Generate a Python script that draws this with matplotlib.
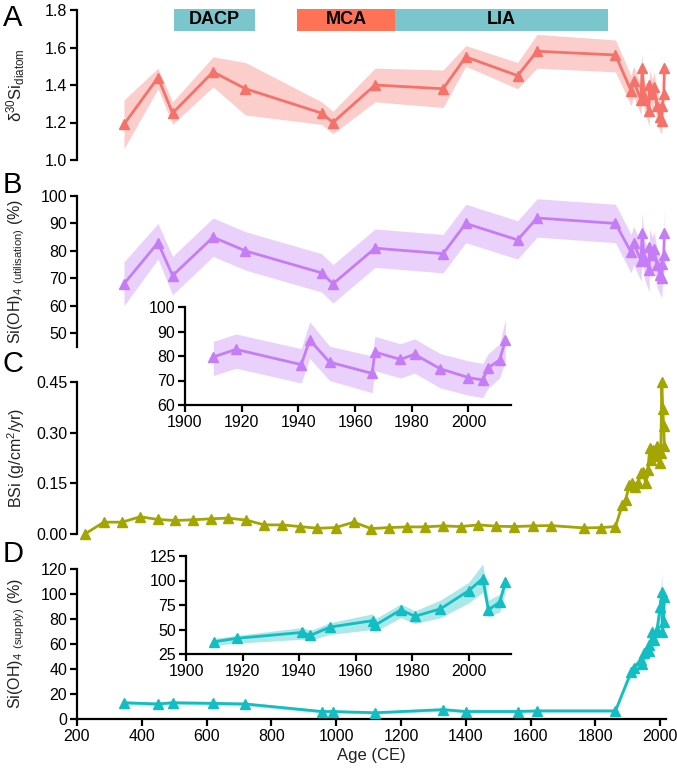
import matplotlib
matplotlib.use("Agg")
import matplotlib.pyplot as plt

plt.rcParams.update({"font.family": ["Liberation Sans", "DejaVu Sans"], "font.size": 11,
                     "mathtext.default": "regular"})

# ---- data ----
YEARS = [345, 450, 495, 620, 720, 955, 990, 1120, 1330, 1400, 1560, 1620, 1862,
         1910, 1918, 1941, 1944, 1951, 1966, 1967, 1976, 1981, 1990, 2000, 2005, 2007, 2011, 2013]
MOD_YEARS = YEARS[13:]

d30 = [1.19, 1.44, 1.25, 1.47, 1.38, 1.25, 1.20, 1.40, 1.38, 1.55, 1.45, 1.58, 1.56,
       1.37, 1.42, 1.32, 1.49, 1.34, 1.26, 1.40, 1.35, 1.39, 1.29, 1.23, 1.21, 1.29, 1.35, 1.49]
d30_lo = [1.06, 1.38, 1.19, 1.39, 1.24, 1.19, 1.14, 1.31, 1.28, 1.50, 1.38, 1.49, 1.47,
          1.29, 1.34, 1.24, 1.41, 1.26, 1.18, 1.32, 1.27, 1.31, 1.21, 1.15, 1.14, 1.21, 1.27, 1.41]
d30_hi = [1.32, 1.49, 1.31, 1.55, 1.52, 1.31, 1.26, 1.49, 1.48, 1.61, 1.52, 1.67, 1.64,
          1.45, 1.50, 1.40, 1.57, 1.42, 1.34, 1.48, 1.43, 1.47, 1.37, 1.31, 1.29, 1.37, 1.43, 1.57]

util = [68, 83, 71, 85, 80, 72, 68, 81, 79, 90, 84, 92, 90,
        79.6, 82.7, 76.5, 86.5, 77.5, 72.9, 81.6, 78.6, 80.7, 74.8, 71.2, 70.2, 75.2, 78.4, 86.4]
util_lo = [60, 77, 64, 78, 73, 65, 61, 74, 72, 83, 77, 85, 83,
           72, 75, 69, 79, 70, 65, 74, 71, 73, 67, 64, 63, 67, 71, 78]
util_hi = [76, 90, 78, 92, 87, 79, 75, 88, 86, 97, 91, 99, 97,
           86, 89, 83, 94, 84, 80, 88, 85, 87, 81, 78, 77, 81, 85, 95]

bsi_year = [226, 283, 339, 395, 450, 504, 557, 613, 667, 723, 778, 833, 888, 942, 998,
            1054, 1108, 1163, 1219, 1273, 1329, 1384, 1439, 1494, 1550, 1608, 1662, 1765, 1818, 1862,
            1883, 1893, 1905, 1913, 1922, 1932, 1940, 1948, 1955, 1962, 1968, 1973, 1978, 1984,
            1990, 1996, 1999, 2002, 2005, 2008, 2011, 2013]
bsi = [0.001, 0.035, 0.035, 0.051, 0.043, 0.040, 0.042, 0.045, 0.047, 0.041, 0.027, 0.027, 0.022, 0.017, 0.019,
       0.035, 0.016, 0.019, 0.021, 0.021, 0.024, 0.022, 0.027, 0.023, 0.022, 0.024, 0.025, 0.018, 0.019, 0.022,
       0.085, 0.100, 0.145, 0.150, 0.140, 0.150, 0.180, 0.185, 0.150, 0.190, 0.255, 0.220, 0.250, 0.230,
       0.260, 0.250, 0.210, 0.240, 0.450, 0.370, 0.320, 0.260]

supply = [13, 12, 13, 12.5, 12, 6, 6, 5, 7.5, 6, 6, 6.5, 6.5,
          37.5, 41, 47, 44, 52.5, 59, 54.5, 70, 63.5, 71, 89.5, 102, 70, 78, 98]
supply_lo = [11.5, 10.5, 11.5, 11, 10.5, 4.8, 4.8, 3.8, 6.2, 4.8, 4.8, 5.3, 5.3,
             34, 36, 40, 39, 45, 50, 48, 62, 56, 62, 77, 88, 63, 68, 88]
supply_hi = [14.5, 13.5, 14.5, 14, 13.5, 7.2, 7.2, 6.2, 8.8, 7.2, 7.2, 7.7, 7.7,
             41, 44, 52, 49, 57, 66, 61, 76, 69, 80, 98, 117, 80, 86, 106]

periods = ["DACP", "MCA", "LIA"]
period_start = [500, 880, 1180]
period_end = [750, 1180, 1840]
period_col = ["#7BC5CC", "#FF7256", "#7BC5CC"]

RED, PURPLE, OLIVE, CYAN = "#F4726A", "#C57CF7", "#A3A500", "#13BEC3"
W, H = 677, 768
TICK_FS, LAB_FS = 11.5, 11.5


def px_axes(x0, y0, x1, y1):
    return fig.add_axes([x0 / W, 1 - y1 / H, (x1 - x0) / W, (y1 - y0) / H])


def style(ax, xaxis=False):
    for s in ["top", "right"]:
        ax.spines[s].set_visible(False)
    ax.spines["left"].set_linewidth(1.6)
    ax.patch.set_alpha(0)
    ax.tick_params(axis="y", length=5, width=1.6, labelsize=TICK_FS, pad=2)
    if xaxis:
        ax.spines["bottom"].set_linewidth(1.6)
        ax.tick_params(axis="x", length=5, width=1.6, labelsize=TICK_FS, pad=2)
    else:
        ax.spines["bottom"].set_visible(False)
        ax.set_xticks([])


def series(ax, x, y, lo, hi, col, band_alpha=0.35):
    if lo is not None:
        ax.fill_between(x, lo, hi, color=col, alpha=band_alpha, lw=0, clip_on=False)
    ax.plot(x, y, color=col, lw=2, marker="^", ms=7, clip_on=False, zorder=3)


fig = plt.figure(figsize=(W / 100, H / 100), dpi=100)

# A
axA = px_axes(77, 10, 666, 160)
series(axA, YEARS, d30, d30_lo, d30_hi, RED)
axA.set_xlim(200, 2018); axA.set_ylim(1.0, 1.8)
axA.set_yticks([1.0, 1.2, 1.4, 1.6, 1.8])
style(axA)
axA.set_ylabel(r"$\delta^{30}Si_{diatom}$", fontsize=LAB_FS + 0.5, color="#222")
for name, s, e, c in zip(periods, period_start, period_end, period_col):
    axA.add_patch(plt.Rectangle((s, 1.69), e - s, 0.115, facecolor=c, edgecolor="none", clip_on=False))
    axA.text((s + e) / 2, 1.748, name, ha="center", va="center", fontsize=13, fontweight="bold")

# B
axB = px_axes(77, 196, 666, 347)
series(axB, YEARS, util, util_lo, util_hi, PURPLE)
axB.set_xlim(200, 2018); axB.set_ylim(45, 100)
axB.set_yticks([50, 60, 70, 80, 90, 100])
axB.spines["left"].set_bounds(45, 100)
style(axB)
axB.set_ylabel(r"Si(OH)$_4$ $_{(utilisation)}$ (%)", fontsize=LAB_FS, color="#222")

# C
axC = px_axes(77, 382, 666, 534)
series(axC, bsi_year, bsi, None, None, OLIVE)
axC.set_xlim(200, 2018); axC.set_ylim(0, 0.45)
axC.set_yticks([0, 0.15, 0.30, 0.45])
axC.set_yticklabels(["0.00", "0.15", "0.30", "0.45"])
style(axC)
axC.set_ylabel(r"BSi (g/cm$^2$/yr)", fontsize=LAB_FS, color="#222")

# D
axD = px_axes(77, 569, 666, 719)
series(axD, YEARS, supply, supply_lo, supply_hi, CYAN, 0.3)
axD.set_xlim(200, 2018); axD.set_ylim(0, 120)
axD.set_yticks(range(0, 121, 20))
axD.set_xticks(range(200, 2001, 200))
style(axD, xaxis=True)
axD.set_ylabel(r"Si(OH)$_4$ $_{(supply)}$ (%)", fontsize=LAB_FS, color="#222")
axD.set_xlabel("Age (CE)", fontsize=12, color="#222", labelpad=3)

for ax in (axA, axB, axC, axD):
    ax.yaxis.set_label_coords(-0.085, 0.5)

# insets
inB = px_axes(185, 307, 511, 405)
series(inB, MOD_YEARS, util[13:], util_lo[13:], util_hi[13:], PURPLE)
inB.set_xlim(1900, 2015); inB.set_ylim(60, 100)
inB.set_yticks([60, 70, 80, 90, 100]); inB.set_xticks(range(1900, 2001, 20))
style(inB, xaxis=True)

inD = px_axes(186, 556, 511, 654)
series(inD, MOD_YEARS, supply[13:], supply_lo[13:], supply_hi[13:], CYAN)
inD.set_xlim(1900, 2015); inD.set_ylim(25, 125)
inD.set_yticks([25, 50, 75, 100, 125]); inD.set_xticks(range(1900, 2001, 20))
style(inD, xaxis=True)

for lab, y in zip("ABCD", [18, 185, 364, 554]):
    fig.text(3 / W, 1 - y / H, lab, fontsize=21, va="center", ha="left")

fig.savefig("out.png", dpi=100, facecolor="white")
